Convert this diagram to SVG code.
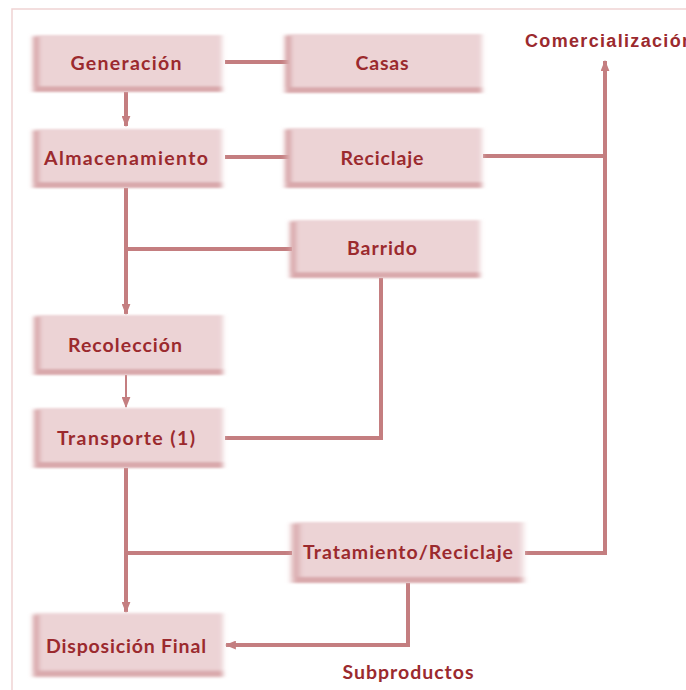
<svg xmlns="http://www.w3.org/2000/svg" width="686" height="690" viewBox="0 0 686 690">
  <defs>
    <style>
      .lbl { font-family: Lato, "Open Sans", "Liberation Sans", sans-serif; font-weight: bold; font-size: 19.5px; fill: #9b2a2e; text-anchor: middle; dominant-baseline: central; }
      .body { fill: #ecd3d5; }
      .edgeL { fill: #d6a1a4; }
      .edgeB { fill: #d9a9ac; }
      .wire { fill: none; stroke: #c47e80; stroke-width: 4; stroke-linejoin: miter; }
      .thin { stroke-width: 2; }
    </style>
    <filter id="soft" x="-10%" y="-20%" width="120%" height="140%">
      <feGaussianBlur stdDeviation="1.3"/>
    </filter>
    <marker id="head" viewBox="0 0 10 8" refX="9" refY="4" markerWidth="11" markerHeight="9" markerUnits="userSpaceOnUse" orient="auto">
      <path d="M0,0 L10,4 L0,8 z" fill="#c47e80"/>
    </marker>
    <!-- shaded box with darker left and bottom edges -->
    <symbol id="box" viewBox="0 0 100 60" preserveAspectRatio="none" overflow="visible">
      <g filter="url(#soft)">
        <rect class="body" x="0" y="0" width="100" height="60"/>
        <rect class="edgeL" x="0" y="2" width="3" height="58"/>
        <rect class="edgeB" x="0" y="54" width="100" height="6"/>
      </g>
    </symbol>
  </defs>

  <rect width="686" height="690" fill="#ffffff"/>
  <!-- page frame -->
  <path d="M686,9 H12 V690" fill="none" stroke="#f0d3d3" stroke-width="1.5"/>

  <g id="connectors">
    <line class="wire" x1="126" y1="92" x2="126" y2="126" marker-end="url(#head)"/>
    <line class="wire" x1="225" y1="62" x2="290" y2="62"/>
    <line class="wire" x1="225" y1="157" x2="290" y2="157"/>
    <line class="wire" x1="483" y1="156" x2="605" y2="156"/>
    <line class="wire" x1="605" y1="555" x2="605" y2="61" marker-end="url(#head)"/>
    <line class="wire" x1="525" y1="553" x2="607" y2="553"/>
    <line class="wire" x1="126" y1="188" x2="126" y2="314" marker-end="url(#head)"/>
    <line class="wire" x1="126" y1="249" x2="292" y2="249"/>
    <polyline class="wire" points="381,278 381,438 225,438"/>
    <line class="wire thin" x1="126" y1="375" x2="126" y2="407" marker-end="url(#head)"/>
    <line class="wire" x1="126" y1="468" x2="126" y2="612" marker-end="url(#head)"/>
    <line class="wire" x1="126" y1="553" x2="292" y2="553"/>
    <polyline class="wire" points="408,583 408,645 226,645" marker-end="url(#head)"/>
  </g>

  <g id="generacion">
    <use href="#box" x="33" y="35" width="189" height="57"/>
    <text class="lbl" x="126" y="62" textLength="111">Generación</text>
  </g>
  <g id="casas">
    <use href="#box" x="285" y="34" width="197" height="59"/>
    <text class="lbl" x="382" y="62" textLength="53">Casas</text>
  </g>
  <g id="almacenamiento">
    <use href="#box" x="33" y="129" width="189" height="59"/>
    <text class="lbl" x="126" y="157" textLength="164">Almacenamiento</text>
  </g>
  <g id="reciclaje">
    <use href="#box" x="285" y="128" width="197" height="60"/>
    <text class="lbl" x="382" y="157" textLength="83">Reciclaje</text>
  </g>
  <g id="barrido">
    <use href="#box" x="290" y="220" width="190" height="58"/>
    <text class="lbl" x="382" y="247" textLength="70">Barrido</text>
  </g>
  <g id="recoleccion">
    <use href="#box" x="34" y="315" width="189" height="60"/>
    <text class="lbl" x="125" y="344" textLength="114">Recolección</text>
  </g>
  <g id="transporte">
    <use href="#box" x="34" y="408" width="189" height="60"/>
    <text class="lbl" x="126" y="437" textLength="138">Transporte (1)</text>
  </g>
  <g id="tratamiento">
    <use href="#box" x="292" y="522" width="231" height="61"/>
    <text class="lbl" x="408" y="551" textLength="210">Tratamiento/Reciclaje</text>
  </g>
  <g id="disposicion">
    <use href="#box" x="33" y="613" width="190" height="64"/>
    <text class="lbl" x="126" y="645" textLength="160">Disposición Final</text>
  </g>
  <g id="comercializacion">
    <text class="lbl" x="525" y="41" style="text-anchor:start; font-family:'Liberation Sans', Arial, sans-serif; font-size:18px" textLength="168">Comercialización</text>
  </g>
  <g id="subproductos">
    <text class="lbl" x="408" y="671" textLength="131">Subproductos</text>
  </g>
</svg>
